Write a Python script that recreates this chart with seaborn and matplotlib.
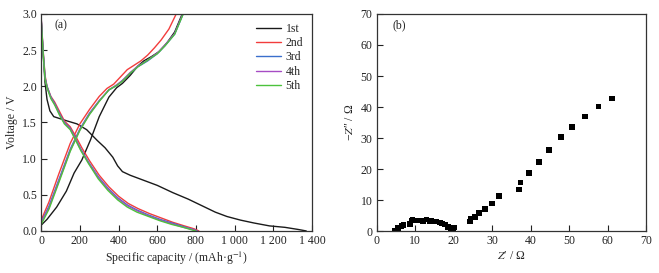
import numpy as np
import pandas as pd
import matplotlib
matplotlib.use("Agg")
import matplotlib.pyplot as plt
import seaborn as sns

# ---- (a) charge / discharge curves, capacity in mAh/g, voltage in V ----
cycle_names = ["1st", "2nd", "3rd", "4th", "5th"]
cycle_colors = ["#1a1a1a", "#f23c3c", "#3a6fcc", "#a64cc4", "#4cc23c"]

dis_cap_1 = [0, 10, 20, 30, 45, 65, 100, 135, 185, 235, 290, 330, 370, 395, 420, 460, 520, 600, 680, 760, 830, 900, 960, 1030, 1100, 1180, 1260, 1330, 1370]
dis_v_1 = [2.92, 2.45, 2.05, 1.82, 1.66, 1.58, 1.55, 1.52, 1.48, 1.40, 1.25, 1.15, 1.02, 0.90, 0.82, 0.77, 0.71, 0.63, 0.53, 0.44, 0.35, 0.26, 0.20, 0.15, 0.11, 0.07, 0.05, 0.02, 0.0]
chg_cap_1 = [0, 30, 80, 130, 170, 210, 255, 300, 350, 390, 420, 460, 500, 530, 570, 610, 650, 690, 729]
chg_v_1 = [0.08, 0.16, 0.33, 0.55, 0.80, 0.98, 1.26, 1.58, 1.85, 1.98, 2.04, 2.15, 2.28, 2.35, 2.41, 2.48, 2.60, 2.75, 3.0]

dis_cap_2 = [0, 10, 20, 30, 50, 70, 95, 120, 150, 180, 210, 250, 300, 350, 400, 450, 500, 560, 620, 680, 740, 790, 815]
dis_v_2 = [2.95, 2.50, 2.15, 2.00, 1.86, 1.78, 1.65, 1.52, 1.44, 1.30, 1.15, 0.97, 0.77, 0.61, 0.48, 0.38, 0.31, 0.24, 0.18, 0.12, 0.07, 0.03, 0.0]
chg_cap_2 = [0, 40, 90, 150, 200, 250, 300, 340, 375, 410, 445, 480, 515, 550, 585, 620, 660, 698]
chg_v_2 = [0.15, 0.40, 0.78, 1.21, 1.48, 1.68, 1.86, 1.97, 2.03, 2.13, 2.23, 2.29, 2.35, 2.43, 2.53, 2.64, 2.79, 3.0]

dis_cap_3 = [0, 10, 20, 30, 50, 70, 95, 120, 150, 175, 205, 245, 295, 345, 395, 445, 495, 555, 615, 675, 735, 785, 808]
dis_v_3 = [2.94, 2.48, 2.12, 2.00, 1.85, 1.76, 1.62, 1.50, 1.42, 1.29, 1.13, 0.95, 0.75, 0.59, 0.46, 0.36, 0.29, 0.22, 0.16, 0.11, 0.06, 0.02, 0.0]
chg_cap_3 = [0, 40, 90, 150, 200, 250, 300, 350, 390, 420, 460, 500, 550, 600, 640, 690, 734]
chg_v_3 = [0.12, 0.34, 0.70, 1.13, 1.41, 1.63, 1.80, 1.95, 2.01, 2.08, 2.18, 2.27, 2.35, 2.45, 2.56, 2.72, 3.0]

dis_cap_4 = [0, 10, 20, 30, 50, 70, 95, 120, 150, 175, 205, 245, 295, 345, 395, 445, 495, 555, 615, 675, 735, 785, 805]
dis_v_4 = [2.93, 2.47, 2.11, 1.99, 1.84, 1.75, 1.61, 1.49, 1.41, 1.28, 1.12, 0.94, 0.74, 0.58, 0.45, 0.35, 0.28, 0.21, 0.15, 0.10, 0.05, 0.02, 0.0]
chg_cap_4 = [0, 40, 90, 150, 200, 250, 300, 350, 390, 420, 460, 500, 550, 600, 640, 690, 732]
chg_v_4 = [0.11, 0.32, 0.68, 1.11, 1.40, 1.62, 1.80, 1.95, 2.02, 2.08, 2.19, 2.28, 2.36, 2.46, 2.57, 2.73, 3.0]

dis_cap_5 = [0, 10, 20, 30, 50, 70, 95, 120, 150, 175, 205, 245, 295, 345, 395, 445, 495, 555, 615, 675, 735, 785, 800]
dis_v_5 = [2.92, 2.46, 2.10, 1.98, 1.83, 1.74, 1.60, 1.48, 1.40, 1.27, 1.11, 0.93, 0.72, 0.56, 0.43, 0.33, 0.26, 0.20, 0.14, 0.09, 0.05, 0.01, 0.0]
chg_cap_5 = [0, 40, 90, 150, 200, 250, 300, 350, 390, 420, 460, 500, 550, 600, 640, 690, 734]
chg_v_5 = [0.09, 0.30, 0.66, 1.10, 1.39, 1.61, 1.79, 1.95, 2.01, 2.07, 2.18, 2.27, 2.36, 2.45, 2.56, 2.72, 3.0]

dis_caps = [dis_cap_1, dis_cap_2, dis_cap_3, dis_cap_4, dis_cap_5]
dis_volts = [dis_v_1, dis_v_2, dis_v_3, dis_v_4, dis_v_5]
chg_caps = [chg_cap_1, chg_cap_2, chg_cap_3, chg_cap_4, chg_cap_5]
chg_volts = [chg_v_1, chg_v_2, chg_v_3, chg_v_4, chg_v_5]

cap_ticks = [0, 200, 400, 600, 800, 1000, 1200, 1400]
cap_tick_labels = ["0", "200", "400", "600", "800", "1 000", "1 200", "1 400"]

# ---- (b) Nyquist plot, ohm ----
z_real = [4.75, 5.6, 6.5, 7.0, 8.65, 9.1, 9.35, 10.8, 12.1, 13.0, 13.8, 14.3, 15.1, 15.6, 16.4, 17.0, 17.7, 18.6, 19.2, 19.5, 19.9, 20.2,
          24.2, 24.4, 25.5, 26.6, 28.1, 29.9, 31.8, 37.0, 37.4, 39.6, 42.2, 44.8, 47.9, 50.7, 54.1, 57.7, 61.1]
z_imag = [0.3, 1.0, 1.7, 2.0, 2.4, 3.4, 3.6, 3.4, 3.3, 3.8, 3.3, 3.4, 3.2, 3.1, 2.8, 2.5, 2.1, 1.4, 1.0, 0.8, 0.4, 1.2,
          3.1, 3.9, 4.5, 5.8, 7.2, 9.0, 11.4, 13.5, 15.7, 18.7, 22.3, 26.2, 30.3, 33.5, 37.0, 40.2, 42.7]
eis = pd.DataFrame({"zr": z_real, "zi": z_imag})

sns.set_style("ticks")
plt.rcParams["font.family"] = ["Liberation Serif", "DejaVu Serif"]
plt.rcParams["mathtext.fontset"] = "stix"
plt.rcParams["font.size"] = 8
plt.rcParams["axes.edgecolor"] = "#333333"
plt.rcParams["axes.linewidth"] = 0.9

fig = plt.figure(figsize=(6.59, 2.73), dpi=100)
ax1 = fig.add_axes([0.0625, 0.154, 0.411, 0.795])
ax2 = fig.add_axes([0.5716, 0.153, 0.4087, 0.796])

for i, name in enumerate(cycle_names):
    sns.lineplot(x=dis_caps[i], y=dis_volts[i], ax=ax1, color=cycle_colors[i], lw=1.0,
                 sort=False, estimator=None, label=name)
    sns.lineplot(x=chg_caps[i], y=chg_volts[i], ax=ax1, color=cycle_colors[i], lw=1.0,
                 sort=False, estimator=None, label="_nolegend_")

ax1.set_xlim(0, 1400)
ax1.set_ylim(0, 3.0)
ax1.set_xticks(cap_ticks)
ax1.set_xticklabels(cap_tick_labels)
ax1.set_yticks(np.arange(0, 3.01, 0.5))
ax1.set_yticklabels([f"{v:.1f}" for v in np.arange(0, 3.01, 0.5)])
ax1.set_xlabel("Specific capacity / (mAh·g$^{-1}$)", labelpad=2, fontsize=8.5)
ax1.set_ylabel("Voltage / V", labelpad=3, fontsize=8.5)
ax1.text(0.05, 0.975, "(a)", transform=ax1.transAxes, va="top", ha="left", fontsize=8.5)
ax1.legend(loc="upper right", frameon=False, fontsize=8.5, handlelength=2.1,
           labelspacing=0.2, borderaxespad=0.35, handletextpad=0.4)

sns.scatterplot(data=eis, x="zr", y="zi", ax=ax2, marker="s", s=16, color="black",
                edgecolor="none", linewidth=0)
ax2.set_xlim(0, 70)
ax2.set_ylim(0, 70)
ax2.set_xticks(range(0, 71, 10))
ax2.set_yticks(range(0, 71, 10))
ax2.set_xlabel("$Z$\u2032 / Ω", labelpad=2, fontsize=8.5)
ax2.set_ylabel("\u2212$Z$\u2033 / Ω", labelpad=3, fontsize=8.5)
ax2.text(0.057, 0.975, "(b)", transform=ax2.transAxes, va="top", ha="left", fontsize=8.5)

for ax in (ax1, ax2):
    ax.tick_params(direction="in", length=4, width=0.8, labelsize=8.5, pad=3, colors="#222222")
    for sp in ax.spines.values():
        sp.set_visible(True)

fig.savefig("out.png", dpi=100)
